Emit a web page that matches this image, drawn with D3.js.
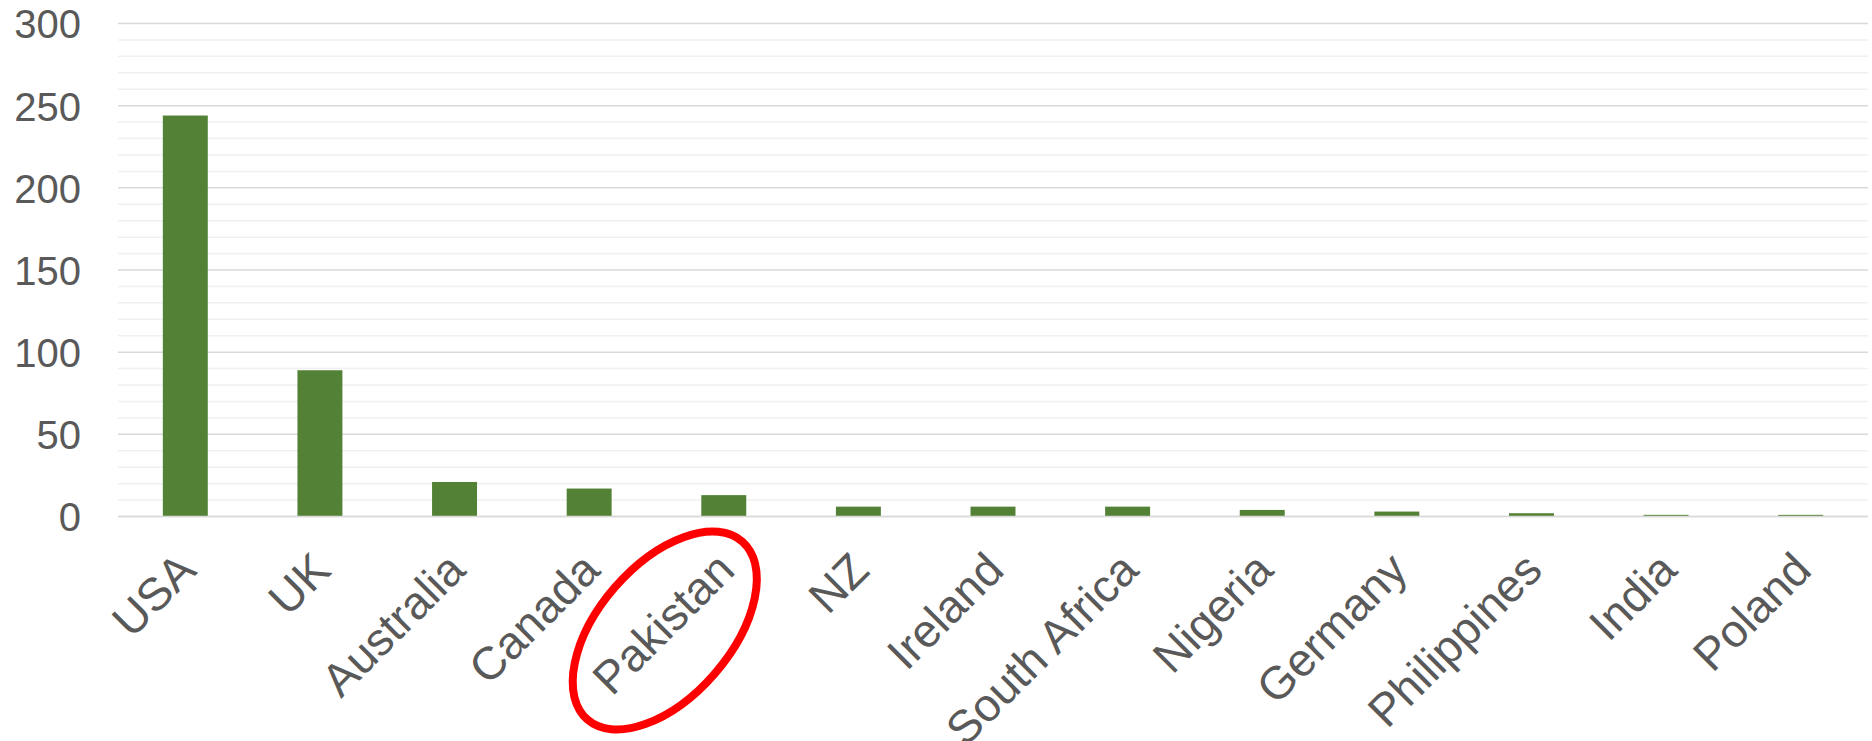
<!DOCTYPE html>
<html>
<head>
<meta charset="utf-8">
<script src="https://cdn.jsdelivr.net/npm/d3@7/dist/d3.min.js"></script>
<style>
  html, body { margin: 0; padding: 0; background: #ffffff; }
  svg { display: block; }
  text { font-family: "Liberation Sans", Arial, sans-serif; }
</style>
</head>
<body>
<svg id="chart" width="1872" height="741"></svg>
<script>
const categories = ["USA", "UK", "Australia", "Canada", "Pakistan", "NZ", "Ireland", "South Africa", "Nigeria", "Germany", "Philippines", "India", "Poland"];
const values = [244, 89, 21, 17, 13, 6, 6, 6, 4, 3, 2, 1, 1];
const yTicks = [0, 50, 100, 150, 200, 250, 300];
const yMinorTicks = [10, 20, 30, 40, 60, 70, 80, 90, 110, 120, 130, 140, 160, 170, 180, 190, 210, 220, 230, 240, 260, 270, 280, 290];
const highlighted = "Pakistan";

(function () {
const plotLeft = 118, plotRight = 1868, plotTop = 23.5, plotBottom = 516.5;

const svg = d3.select("#chart");

const x = d3.scaleBand()
  .domain(categories)
  .range([plotLeft, plotRight])
  .paddingInner(0.666)
  .paddingOuter(0.333);

const y = d3.scaleLinear()
  .domain([0, 300])
  .range([plotBottom, plotTop]);

// minor gridlines
svg.append("g")
  .selectAll("line")
  .data(yMinorTicks)
  .join("line")
  .attr("x1", plotLeft).attr("x2", plotRight)
  .attr("y1", d => y(d)).attr("y2", d => y(d))
  .attr("stroke", "#F0F0F0")
  .attr("stroke-width", 1.5);

// major gridlines
svg.append("g")
  .selectAll("line")
  .data(yTicks)
  .join("line")
  .attr("x1", plotLeft).attr("x2", plotRight)
  .attr("y1", d => y(d)).attr("y2", d => y(d))
  .attr("stroke", "#D9D9D9")
  .attr("stroke-width", 1.5);

// y axis labels
const yAxis = d3.axisLeft(y).tickValues(yTicks).tickSize(0).tickPadding(0);
const gy = svg.append("g")
  .attr("transform", `translate(${plotLeft - 37},0)`)
  .call(yAxis);
gy.select(".domain").remove();
gy.selectAll("text")
  .attr("font-family", "'Liberation Sans', Arial, sans-serif")
  .attr("font-size", 40)
  .attr("fill", "#595959")
  .attr("dy", "0.36em");

// bars
svg.append("g")
  .selectAll("rect")
  .data(categories)
  .join("rect")
  .attr("x", d => x(d))
  .attr("width", x.bandwidth())
  .attr("y", (d, i) => y(values[i]))
  .attr("height", (d, i) => y(0) - y(values[i]))
  .attr("fill", "#538135");

// baseline
svg.append("line")
  .attr("x1", plotLeft).attr("x2", plotRight)
  .attr("y1", y(0)).attr("y2", y(0))
  .attr("stroke", "#D9D9D9")
  .attr("stroke-width", 1.5);

// x axis labels
const xAxis = d3.axisBottom(x).tickSize(0).tickPadding(0);
const gx = svg.append("g")
  .attr("transform", `translate(0,${plotBottom})`)
  .call(xAxis);
gx.select(".domain").remove();
gx.selectAll(".tick text")
  .attr("font-family", "'Liberation Sans', Arial, sans-serif")
  .attr("font-size", 46)
  .attr("fill", "#595959")
  .attr("text-anchor", "end")
  .attr("dy", null)
  .attr("y", null)
  .attr("transform", "translate(13,56) rotate(-45)");

// red ellipse annotation around highlighted label
const hx = x(highlighted) + x.bandwidth() / 2;
const ecx = hx - 59, ecy = plotBottom + 114;
svg.append("ellipse")
  .attr("cx", ecx)
  .attr("cy", ecy)
  .attr("rx", 118)
  .attr("ry", 66)
  .attr("transform", `rotate(-49, ${ecx}, ${ecy})`)
  .attr("fill", "none")
  .attr("stroke", "#FF0000")
  .attr("stroke-width", 8);
})();
</script>
</body>
</html>
